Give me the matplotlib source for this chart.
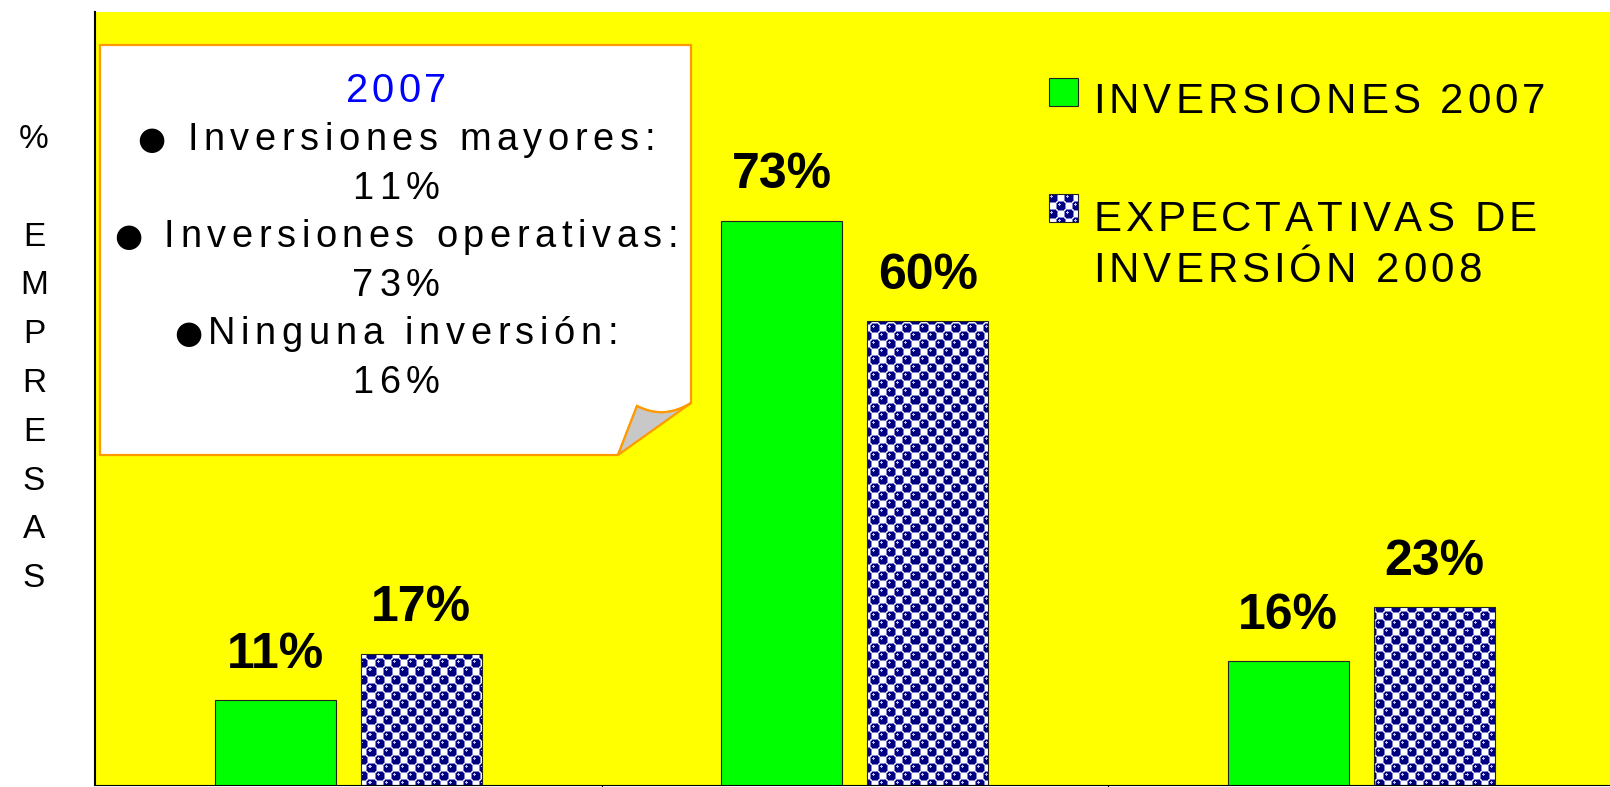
import numpy as np
import matplotlib
matplotlib.use('Agg')
import matplotlib.pyplot as plt
import matplotlib.font_manager as fm
from matplotlib import ft2font
from matplotlib.path import Path
from matplotlib.patches import PathPatch, Rectangle

# datos del grafico
categories = ['Inversiones mayores', 'Inversiones operativas', 'Ninguna inversión']
inversiones_2007 = [11, 73, 16]
expectativas_2008 = [17, 60, 23]
series_labels = ['INVERSIONES 2007', 'EXPECTATIVAS DE\nINVERSIÓN 2008']
note_title = '2007'
note_lines = ['● Inversiones mayores:', '11%', '● Inversiones operativas:', '73%',
              '●Ninguna inversión:', '16%']
ylabel_lines = ['%', '', 'E', 'M', 'P', 'R', 'E', 'S', 'A', 'S']

W, H, DPI = 1610, 787, 100
FONT = 'Liberation Sans'
try:
    NO_HINT = ft2font.LoadFlags.NO_HINTING
except AttributeError:
    NO_HINT = ft2font.LOAD_NO_HINTING


def fx(x):
    return x / W


def fy(y):
    return 1 - y / H


_fonts = {}


def _font(family, weight):
    key = (family, weight)
    if key not in _fonts:
        path = fm.findfont(fm.FontProperties(family=family, weight=weight))
        _fonts[key] = ft2font.FT2Font(path)
    return _fonts[key]


def spaced_text(x, y, s, size_px, track=0.0, ha='center', color='black', weight='normal'):
    # texto con espaciado entre letras (posiciones en pixeles, y desde arriba)
    pieces = []
    for c in s:
        if c == '●':
            fam, size = 'DejaVu Sans', size_px * 0.85
        else:
            fam, size = FONT, size_px
        f = _font(fam, weight)
        f.set_size(size, 72)
        adv = f.load_char(ord(c), flags=NO_HINT).linearHoriAdvance / 65536
        pieces.append((c, fam, size, adv))
    total = sum(p[3] for p in pieces) + track * (len(pieces) - 1)
    x0 = x - total / 2 if ha == 'center' else x
    for c, fam, size, adv in pieces:
        if c != ' ':
            dy = -size_px * 0.03 if c == '●' else 0
            fig.text(fx(x0), fy(y + dy), c, fontsize=size * 72 / DPI, family=fam,
                     weight=weight, color=color, ha='left', va='baseline', zorder=6)
        x0 += adv + track


# trama de esferas azules (red diagonal)
n, r = 16, 4.9
yy, xx = np.mgrid[0:n, 0:n] + 0.5
d = np.full((n, n), 99.0)
for cx, cy in [(4, 4), (12, 12)]:
    for sx in (-n, 0, n):
        for sy in (-n, 0, n):
            d = np.minimum(d, np.hypot(xx - cx - sx, yy - cy - sy))
tile = np.ones((n, n, 3))
tile[d < r + 0.5] = np.array([128, 128, 200]) / 255
tile[d < r - 0.4] = np.array([0, 0, 128]) / 255
hl = np.full((n, n), 99.0)
for cx, cy in [(2.6, 2.6), (10.6, 10.6)]:
    hl = np.minimum(hl, np.hypot(xx - cx, yy - cy))
tile[hl < 1.2] = np.array([190, 190, 235]) / 255

fig = plt.figure(figsize=(W / DPI, H / DPI), dpi=DPI)
ax_l, ax_b, ax_w, ax_h = 95, 2, 1519.5, 773
ax = fig.add_axes([ax_l / W, ax_b / H, ax_w / W, ax_h / H])
ax.set_facecolor('#FFFF00')

x = np.arange(len(categories))
off, bw = 0.144, 0.239
b1 = ax.bar(x - off, inversiones_2007, bw, color='#00FF00', edgecolor='#222222',
            linewidth=0.8, zorder=3)
b2 = ax.bar(x + off, expectativas_2008, bw, facecolor='none', edgecolor='#222222',
            linewidth=0.8, zorder=3)
ax.set_xlim(-0.5, 2.5)
ax.set_ylim(0, 100)

texture = np.tile(tile, (ax_h // n + 1, int(ax_w) // n + 1, 1))[:ax_h, :int(ax_w)]
for bar in b2:
    im = ax.imshow(texture, extent=(-0.5, 2.5, 0, 100), aspect='auto',
                   interpolation='nearest', zorder=2)
    im.set_clip_path(bar)
ax.set_xlim(-0.5, 2.5)
ax.set_ylim(0, 100)

for bars, vals in [(b1, inversiones_2007), (b2, expectativas_2008)]:
    ax.bar_label(bars, labels=[f'{v}%' for v in vals], padding=16, fontsize=36,
                 fontweight='bold', family=FONT)

ax.spines['top'].set_visible(False)
ax.spines['right'].set_visible(False)
ax.spines['left'].set_linewidth(1.5)
ax.set_yticks([])
ax.set_xticks([0.5, 1.5])
ax.set_xticklabels([])
ax.tick_params(axis='x', direction='out', length=6)

# eje y: letras apiladas
for i, ch in enumerate(ylabel_lines):
    if ch:
        fig.text(fx(34), fy(137 + i * 48.8 + 11), ch, fontsize=24, family=FONT,
                 ha='center', va='baseline')

# nota con esquina doblada
orange = '#FF9900'
body = Path([(fx(100), fy(45)), (fx(691), fy(45)), (fx(691), fy(403)),
             (fx(664), fy(420)), (fx(637), fy(406)), (fx(618), fy(455)),
             (fx(100), fy(455)), (fx(100), fy(45))],
            [Path.MOVETO, Path.LINETO, Path.LINETO, Path.CURVE3, Path.CURVE3,
             Path.LINETO, Path.LINETO, Path.CLOSEPOLY])
flap = Path([(fx(691), fy(403)), (fx(664), fy(420)), (fx(637), fy(406)),
             (fx(618), fy(455)), (fx(691), fy(403))],
            [Path.MOVETO, Path.CURVE3, Path.CURVE3, Path.LINETO, Path.CLOSEPOLY])
fig.add_artist(PathPatch(body, transform=fig.transFigure, facecolor='white',
                         edgecolor=orange, linewidth=1.6, zorder=5))
fig.add_artist(PathPatch(flap, transform=fig.transFigure, facecolor='#C8C8C8',
                         edgecolor=orange, linewidth=1.6, zorder=5))

spaced_text(396, 102, note_title, 40, track=4, color='#0000FF')
for i, line in enumerate(note_lines):
    spaced_text(396, 150 + i * 48.6, line, 38, track=5.6)

# leyenda
fig.add_artist(Rectangle((fx(1049), fy(106)), 29 / W, 28 / H, transform=fig.transFigure,
                         facecolor='#00FF00', edgecolor='#222222', linewidth=0.8, zorder=5))
leg_tex = np.tile(tile, (3, 3, 1))[:28, :29]
fig.figimage(leg_tex, xo=1049, yo=H - 222, zorder=5)
fig.add_artist(Rectangle((fx(1049), fy(222)), 29 / W, 28 / H, transform=fig.transFigure,
                         facecolor='none', edgecolor='#222222', linewidth=0.8, zorder=6))
leg_baselines = [[113], [231, 282]]
for label, bases in zip(series_labels, leg_baselines):
    for line, yb in zip(label.split('\n'), bases):
        spaced_text(1093, yb, line, 42, track=4, ha='left')

fig.savefig('out.png', dpi=DPI)
